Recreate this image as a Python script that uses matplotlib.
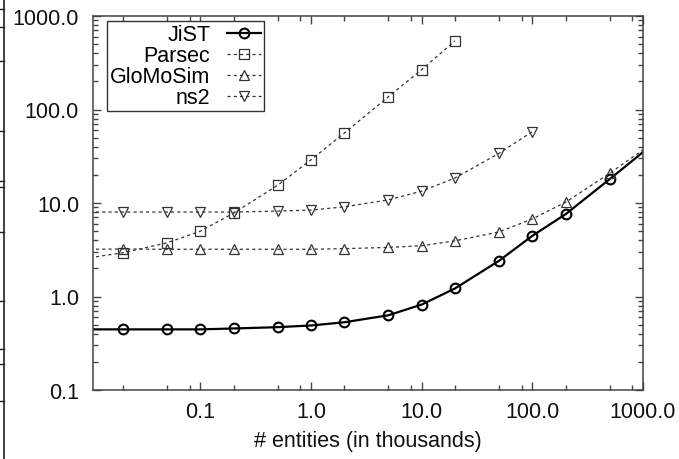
import matplotlib
matplotlib.use('Agg')
import matplotlib.pyplot as plt
from matplotlib.ticker import LogLocator, FixedLocator, FuncFormatter, NullFormatter
from matplotlib.lines import Line2D

plt.rcParams['font.family'] = ['Liberation Sans', 'DejaVu Sans']

# entities in thousands (0.01 point only feeds the line to the left edge)
x_all = [0.01, 0.02, 0.05, 0.1, 0.2, 0.5, 1, 2, 5, 10, 20, 50, 100, 200, 500, 1000]

jist = [0.445, 0.445, 0.445, 0.445, 0.455, 0.47, 0.49, 0.53, 0.63, 0.82, 1.22, 2.41, 4.46, 7.6, 18.0, 35.0]
parsec_x = [0.01, 0.02, 0.05, 0.1, 0.2, 0.5, 1, 2, 5, 10, 20]
parsec = [2.6, 2.94, 3.75, 5.0, 7.8, 15.5, 29.0, 56.0, 137.0, 267.0, 542.0]
glomosim = [3.2, 3.22, 3.2, 3.2, 3.2, 3.2, 3.2, 3.25, 3.35, 3.49, 3.94, 4.9, 6.76, 10.2, 20.8, 37.0]
ns2_x = [0.01, 0.02, 0.05, 0.1, 0.2, 0.5, 1, 2, 5, 10, 20, 50, 100]
ns2 = [8.0, 8.0, 8.0, 8.0, 8.0, 8.2, 8.4, 9.1, 10.8, 13.4, 18.5, 34.0, 58.0]

FS = 15.5

fig = plt.figure(figsize=(6.79, 4.60), dpi=100)
ax = fig.add_axes([93/679, 1 - 391/460, 550/679, 374/460])

dash = (0, (2.5, 2.5))
ax.plot(x_all, jist, color='black', lw=1.6, marker='o', ms=7, mfc='none', mew=1.5,
        markevery=slice(1, 15), label='JiST')
ax.plot(parsec_x, parsec, color='#333333', lw=0.9, ls=dash, marker='s', ms=7, mfc='none',
        mec='#333333', mew=0.9, markevery=slice(1, None), label='Parsec')
ax.plot(x_all, glomosim, color='#333333', lw=0.9, ls=dash, marker='^', ms=7, mfc='none',
        mec='#333333', mew=0.9, markevery=slice(1, 15), label='GloMoSim')
ax.plot(ns2_x, ns2, color='#333333', lw=0.9, ls=dash, marker='v', ms=7, mfc='none',
        mec='#333333', mew=0.9, markevery=slice(1, None), label='ns2')

ax.set_xscale('log')
ax.set_yscale('log')
ax.set_xlim(0.0107, 1000)
ax.set_ylim(0.1, 1000)

fmt = FuncFormatter(lambda v, p: '%.1f' % v)
ax.xaxis.set_major_locator(FixedLocator([0.1, 1, 10, 100, 1000]))
ax.yaxis.set_major_locator(FixedLocator([0.1, 1, 10, 100, 1000]))
ax.xaxis.set_major_formatter(fmt)
ax.yaxis.set_major_formatter(fmt)
ax.xaxis.set_minor_locator(LogLocator(base=10, subs=[2, 5, 8], numticks=20))
ax.yaxis.set_minor_locator(LogLocator(base=10, subs=range(2, 10), numticks=20))
ax.xaxis.set_minor_formatter(NullFormatter())
ax.yaxis.set_minor_formatter(NullFormatter())

ax.tick_params(which='both', direction='in', top=True, right=True, colors='#444444',
               labelcolor='#111111', labelsize=FS, width=1)
ax.tick_params(which='major', length=6)
ax.tick_params(which='minor', length=3.5)
ax.tick_params(axis='y', pad=10)
ax.tick_params(axis='x', pad=8)
for s in ax.spines.values():
    s.set_color('#444444')
    s.set_linewidth(1.1)

ax.set_xlabel('# entities (in thousands)', fontsize=FS, color='#111111', labelpad=6)

leg = ax.legend(loc='upper left', bbox_to_anchor=(14/550, 1 - 5/374), borderaxespad=0,
                markerfirst=False, fontsize=FS, handlelength=1.6, handletextpad=0.75,
                labelspacing=0.0, borderpad=0.15, fancybox=False, framealpha=1)
leg.get_frame().set_edgecolor('#333333')
leg.get_frame().set_linewidth(1.0)
leg.get_frame().set_width(leg.get_frame().get_width())

# border of the neighbouring figure cut at the left of the image
fig.add_artist(Line2D([4/679, 4/679], [0, 1], color='#222222', lw=1.2))
for yp in [10, 28, 62, 132, 182, 188, 233, 302, 350, 365, 402]:
    fig.add_artist(Line2D([0, 4/679], [1 - yp/460, 1 - yp/460], color='#222222', lw=1))

fig.savefig('out.png', dpi=100)
